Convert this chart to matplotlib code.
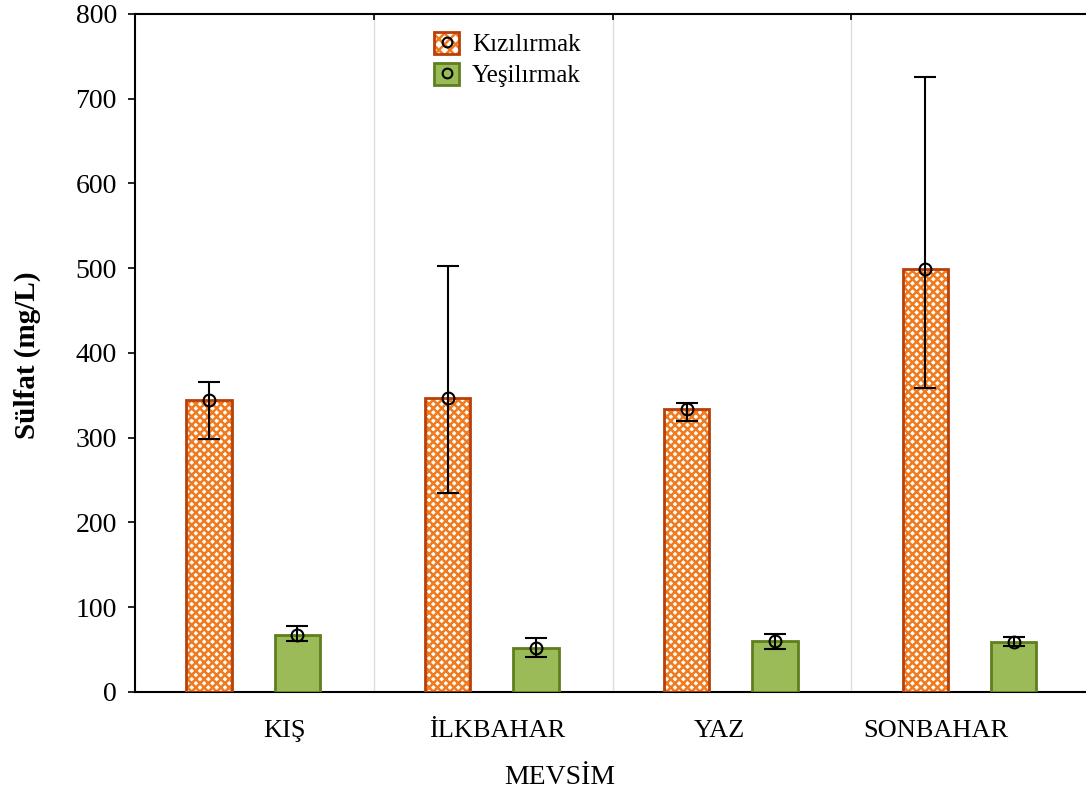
import matplotlib.pyplot as plt
from matplotlib.patches import Patch
from matplotlib.lines import Line2D
from matplotlib.legend_handler import HandlerTuple
import numpy as np

plt.rcParams['font.family'] = ['Liberation Serif', 'DejaVu Serif']
plt.rcParams['hatch.linewidth'] = 1.8

seasons = ['KIŞ', 'İLKBAHAR', 'YAZ', 'SONBAHAR']
kizil_mean = [345, 347, 334, 499]
kizil_low = [299, 235, 320, 359]
kizil_high = [366, 503, 341, 725]
yesil_mean = [67, 52, 60, 59]
yesil_low = [60, 41, 51, 54]
yesil_high = [78, 64, 68, 65]

x = np.arange(len(seasons))
fig = plt.figure(figsize=(10.86, 7.96), dpi=100)
ax = fig.add_axes([0.1243, 0.1307, 0.8794, 0.8518])

w = 0.19
xo = x + 0.31
xg = x + 0.68

ax.bar(xo, kizil_mean, width=w, facecolor='white', edgecolor='#F07A1E',
       hatch='xxxx', linewidth=0, zorder=2)
ax.bar(xo, kizil_mean, width=w, facecolor='none', edgecolor='#B8400A',
       linewidth=2, zorder=3)
ax.bar(xg, yesil_mean, width=w, facecolor='#9BBB59', edgecolor='#5F7F1F',
       linewidth=2, zorder=3)

for xs, m, lo, hi in [(xo, kizil_mean, kizil_low, kizil_high),
                      (xg, yesil_mean, yesil_low, yesil_high)]:
    m = np.array(m)
    err = [m - np.array(lo), np.array(hi) - m]
    ax.errorbar(xs, m, yerr=err, fmt='o', mfc='none', mec='black', ms=8.5,
                mew=1.5, ecolor='black', elinewidth=1.5, capsize=8,
                capthick=1.5, zorder=4)

ax.set_xlim(0, 4)
ax.set_ylim(0, 800)
for b in [1, 2, 3]:
    ax.axvline(b, color='#DDDDDD', lw=1, zorder=1)

ax.set_yticks(range(0, 801, 100))
ax.tick_params(axis='y', labelsize=20, direction='out', length=5, width=1.2, pad=8)
ax.set_xticks([0.628, 1.515, 2.448, 3.356])
ax.set_xticklabels(seasons)
ax.tick_params(axis='x', labelsize=19, length=0, pad=20)
ax.set_xticks([1, 2, 3], minor=True)
ax.tick_params(axis='x', which='minor', top=True, bottom=False,
               direction='in', length=4, width=1.2)
ax.tick_params(axis='y', which='both', right=True, direction='out')
for t in ax.yaxis.get_ticklines()[1::2]:
    t.set_markersize(4)

for s in ['left', 'bottom', 'top']:
    ax.spines[s].set_linewidth(1.5)
ax.spines['right'].set_visible(False)

ax.set_ylabel('Sülfat (mg/L)', fontsize=21, fontweight='bold')
ax.yaxis.set_label_coords(-0.098, 0.497)
ax.set_xlabel('MEVSİM', fontsize=20)
ax.xaxis.set_label_coords((560 - 135) / 955, -0.108)

h1 = (Patch(facecolor='white', edgecolor='#F07A1E', hatch='xxx', lw=0),
      Patch(facecolor='none', edgecolor='#B8400A', lw=2),
      Line2D([], [], marker='o', ls='none', mfc='none', mec='black', ms=7, mew=1.5))
h2 = (Patch(facecolor='#9BBB59', edgecolor='#5F7F1F', lw=2),
      Line2D([], [], marker='o', ls='none', mfc='none', mec='black', ms=7, mew=1.5))
ax.legend([h1, h2], ['Kızılırmak', 'Yeşilırmak'],
          handler_map={tuple: HandlerTuple(ndivide=1, pad=0)},
          loc='upper left', bbox_to_anchor=(0.290, 1.007), frameon=False,
          fontsize=18, handlelength=1.0, handleheight=1.0, handletextpad=0.5,
          labelspacing=0.25)

fig.savefig('out.png', dpi=100)
